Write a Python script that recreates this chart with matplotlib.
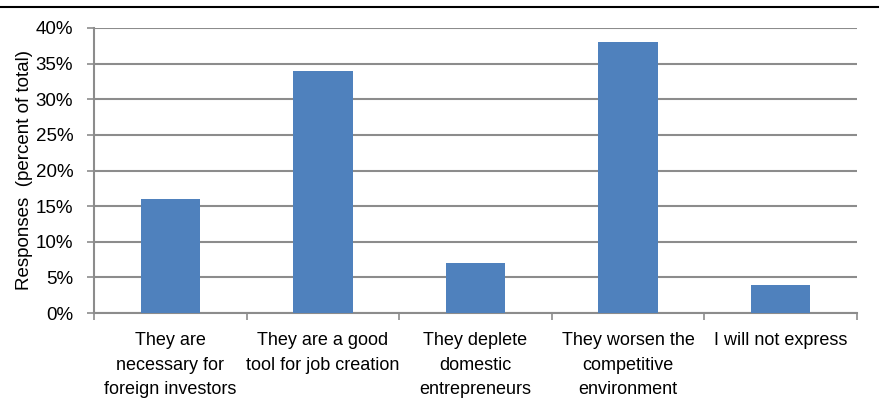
import matplotlib
matplotlib.use("Agg")
import matplotlib.pyplot as plt
from matplotlib.lines import Line2D
import numpy as np

categories = ["They are\nnecessary for\nforeign investors",
              "They are a good\ntool for job creation",
              "They deplete\ndomestic\nentrepreneurs",
              "They worsen the\ncompetitive\nenvironment",
              "I will not express"]
values = [16, 34, 7, 38, 4]
yticks = [0, 5, 10, 15, 20, 25, 30, 35, 40]
ytick_labels = [f"{v}%" for v in yticks]

plt.rcParams['font.family'] = ['Liberation Sans', 'DejaVu Sans']

fig = plt.figure(figsize=(8.82, 4.12), dpi=100)
ax = fig.add_axes([94/882, 1 - 313/412, (857-94)/882, (313-28)/412])

x = np.arange(len(categories))
ax.bar(x, values, width=0.39, color="#4f81bd", zorder=3)
ax.set_xlim(-0.5, len(categories) - 0.5)
ax.set_ylim(0, 40)
ax.set_yticks(yticks)
ax.set_yticklabels(ytick_labels, fontsize=13.5)
ax.yaxis.grid(True, color="#8c8c8c", linewidth=1.5, zorder=0)
ax.set_axisbelow(True)

ax.set_xticks(x)
ax.set_xticklabels(categories, fontsize=13, linespacing=1.55, va="top")
ax.tick_params(axis='x', length=0, pad=14)
ax.set_xticks(np.arange(len(categories) + 1) - 0.5, minor=True)
ax.tick_params(axis='x', which='minor', length=5, width=1.2, color="#8c8c8c", direction='out')
ax.tick_params(axis='y', length=5, width=1.2, color="#8c8c8c", pad=10)

for s in ['top', 'right']:
    ax.spines[s].set_visible(False)
for s in ['left', 'bottom']:
    ax.spines[s].set_color("#8c8c8c")
    ax.spines[s].set_linewidth(1.5)

ax.set_ylabel("Responses  (percent of total)", fontsize=13.5, labelpad=2)

fig.add_artist(Line2D([0, 878/882], [1 - 7/412, 1 - 7/412], color="black", linewidth=1.5,
                      transform=fig.transFigure))

fig.savefig("out.png", dpi=100)
